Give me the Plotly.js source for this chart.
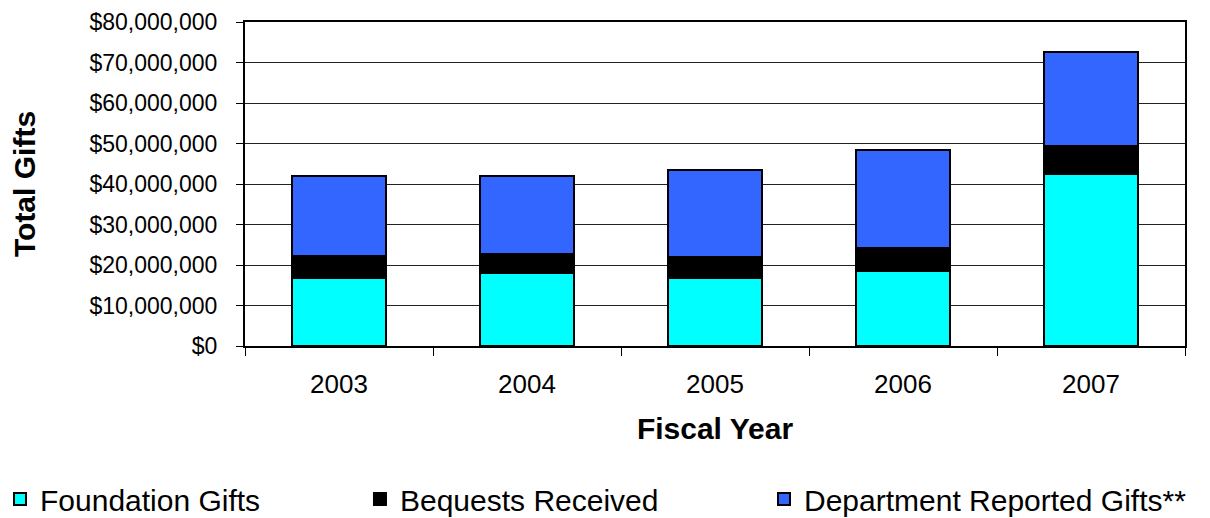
<!DOCTYPE html>
<html>
<head>
<meta charset="utf-8">
<script src="https://cdn.plot.ly/plotly-3.0.1.min.js"></script>
<style>html,body{margin:0;padding:0;background:#fff;}#chart{width:1210px;height:518px;}</style>
</head>
<body>
<div id="chart"></div>
<script>
const years = ["2003", "2004", "2005", "2006", "2007"];
const foundationGifts = [16700000, 18100000, 16800000, 18400000, 42500000];
const bequestsReceived = [5500000, 4600000, 5200000, 5700000, 6800000];
const departmentGifts = [19900000, 19200000, 21500000, 24400000, 23400000];
const seriesNames = ["Foundation Gifts", "Bequests Received", "Department Reported Gifts**"];
const seriesColors = ["#00FFFF", "#000000", "#3366FF"];
const seriesValues = [foundationGifts, bequestsReceived, departmentGifts];

const font = "Liberation Sans, Arial, sans-serif";
const legendIds = ["legend", "legend2", "legend3"];
const traces = seriesValues.map((vals, i) => ({
  type: "bar",
  name: seriesNames[i],
  x: years,
  y: vals,
  legend: legendIds[i],
  marker: {color: seriesColors[i], line: {color: "#000", width: 2}},
  hoverinfo: "skip"
}));

function legendAt(x) {
  return {
    orientation: "h",
    xref: "container", yref: "container",
    x: x, xanchor: "left",
    y: 0.087, yanchor: "top",
    font: {family: font, size: 30, color: "#000"},
    bgcolor: "rgba(0,0,0,0)"
  };
}

const layout = {
  width: 1210, height: 518,
  margin: {l: 245, r: 25, t: 22, b: 172},
  barmode: "stack",
  bargap: 0.5,
  paper_bgcolor: "#fff",
  plot_bgcolor: "#fff",
  font: {family: font, color: "#000"},
  showlegend: true,
  legend: legendAt(-0.0165),
  legend2: legendAt(0.2975),
  legend3: legendAt(0.6314),
  xaxis: {
    type: "category",
    showline: true, linecolor: "#000", linewidth: 2, mirror: true,
    ticks: "outside", tickson: "boundaries", ticklen: 8, tickcolor: "#000", tickwidth: 1,
    tickfont: {family: font, size: 26, color: "#000"},
    ticklabelstandoff: 14,
    showgrid: false,
    title: {text: "<b>Fiscal Year</b>", font: {family: font, size: 30, color: "#000"}, standoff: 20}
  },
  yaxis: {
    range: [0, 80000000],
    dtick: 10000000,
    tickformat: "$,.0f",
    showline: true, linecolor: "#000", linewidth: 2, mirror: true,
    ticks: "outside", ticklen: 7, tickcolor: "#000", tickwidth: 1,
    tickfont: {family: font, size: 23, color: "#000"},
    ticklabelstandoff: 14,
    showgrid: true, gridcolor: "#222", gridwidth: 1,
    zeroline: false,
    title: {text: "<b>Total Gifts</b>", font: {family: font, size: 30, color: "#000"}, standoff: 45}
  }
};

Plotly.newPlot("chart", traces, layout, {displayModeBar: false, staticPlot: true});
</script>
</body>
</html>
